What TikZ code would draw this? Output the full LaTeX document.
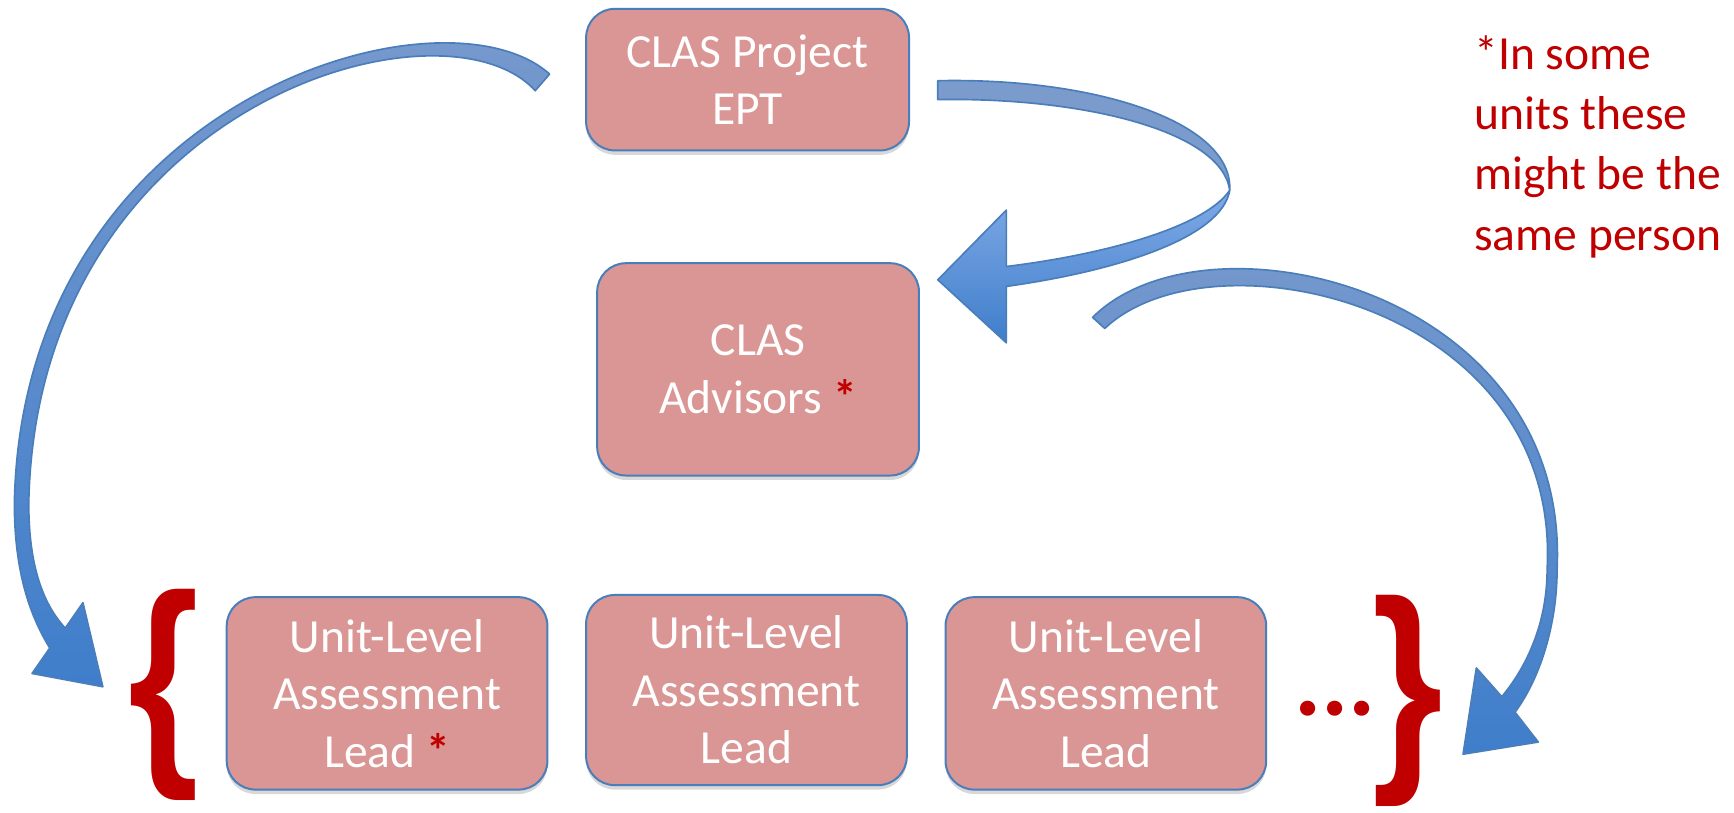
\documentclass[tikz,border=0pt]{standalone}
\usepackage{fontspec}
\setmainfont{Carlito}
\newfontfamily\bracefam{Liberation Sans}
\usetikzlibrary{shadows}
\definecolor{boxfill}{HTML}{D99694}
\definecolor{boxline}{HTML}{4A7EBB}
\definecolor{arrback}{HTML}{7B9BCD}
\definecolor{arrtop}{HTML}{80AAE6}
\definecolor{arrbot}{HTML}{3F7ECB}
\definecolor{starred}{HTML}{C00000}
\tikzset{
 unitbox/.style={draw=boxline, line width=1.8pt, fill=boxfill, rounded corners=26pt,
   text=white, align=center, inner sep=0pt, font=\fontsize{43}{52}\selectfont,
   drop shadow={shadow xshift=0pt, shadow yshift=-4pt, opacity=0.3}},
 ribbon/.style={draw=boxline, line width=1.5pt, line join=round},
 redtext/.style={text=starred, inner sep=0pt},
 bracefont/.style={redtext, font=\bracefam\fontsize{205}{205}\selectfont\bfseries},
}
\begin{document}
\begin{tikzpicture}[x=1pt,y=-1pt]
\useasboundingbox[fill=white] (0,0) rectangle (1568,735);

% boxes
\node[unitbox, minimum width=292pt, minimum height=128pt] (ept) at (676,72) {CLAS Project\\EPT};
\node[unitbox, minimum width=291pt, minimum height=192pt] (adv) at (685.5,334) {CLAS\\Advisors {\color{starred}\textbf{*}}};
\node[unitbox, minimum width=290pt, minimum height=174pt] (u1) at (350,627) {Unit-Level\\Assessment\\Lead {\color{starred}\textbf{*}}};
\node[unitbox, minimum width=290pt, minimum height=172pt] (u2) at (675,624) {Unit-Level\\Assessment\\Lead};
\node[unitbox, minimum width=290pt, minimum height=174pt] (u3) at (1000,627) {Unit-Level\\Assessment\\Lead};

% note
\node[redtext, anchor=north west, align=left, font=\fontsize{43}{54.5}\selectfont] (note) at (1333,32)
  {*In some\\units these\\might be the\\same person};

% braces and dots
\node[bracefont] (lbrace) at (148,628) {\scalebox{0.8}[1]{\{}};
\node[bracefont] (rbrace) at (1273,634) {\scalebox{0.8}[1]{\}}};
\node[redtext, font=\fontsize{92}{92}\selectfont\bfseries] (dots) at (1207,641) {...};

% arrow A: EPT -> unit leads (left)
\path[ribbon, top color=arrback, bottom color=arrbot]
  (497,67) .. controls (400,-20) and (20,90) .. (13,455)
  .. controls (13,515) and (26,555) .. (45,586)
  -- (29,609) -- (93,621) -- (75,545) -- (59,568)
  .. controls (38,545) and (26,510) .. (26,455)
  .. controls (33,95) and (400,-10) .. (484,82)
  -- cycle;

% arrow C: advisors -> unit leads (right)
\path[ribbon, top color=arrback, bottom color=arrbot]
  (988,287) .. controls (1090,185) and (1420,260) .. (1408,515)
  .. controls (1408,560) and (1395,610) .. (1370,644)
  -- (1391,671) -- (1323,682) -- (1335,604) -- (1358,630)
  .. controls (1383,600) and (1399,560) .. (1399,515)
  .. controls (1412,274) and (1095,206) .. (999,297)
  -- cycle;

% arrow B: EPT -> advisors (back part)
\path[ribbon, fill=arrback]
  (848,73) .. controls (990,70) and (1115,110) .. (1112,172)
  .. controls (1105,120) and (985,88) .. (848,90)
  -- cycle;
% arrow B: front part with head
\path[ribbon, top color=arrtop, bottom color=arrbot]
  (1112,172) .. controls (1105,215) and (1010,245) .. (910,259)
  -- (910,310) -- (848,253) -- (910,190) -- (910,241)
  .. controls (1000,230) and (1090,205) .. (1112,172)
  -- cycle;
\end{tikzpicture}
\end{document}
